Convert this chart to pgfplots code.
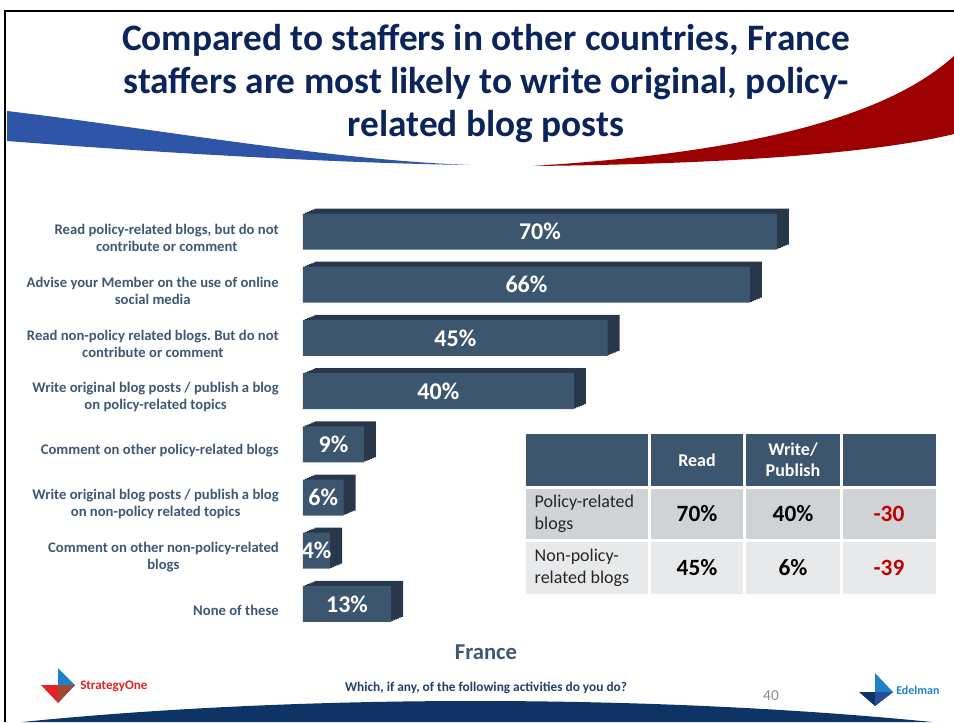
\documentclass[border=0pt]{standalone}
\usepackage{fontspec}
\setmainfont{Carlito}
\usepackage{pgfplots}
\usepackage{pgfplotstable}
\pgfplotsset{compat=1.18}

\definecolor{barfront}{RGB}{60,86,112}
\definecolor{barside}{RGB}{40,56,74}
\definecolor{titleblue}{RGB}{12,36,92}
\definecolor{labelblue}{RGB}{62,88,116}
\definecolor{rowa}{RGB}{208,211,214}
\definecolor{rowb}{RGB}{232,233,235}
\definecolor{negred}{RGB}{192,0,0}
\definecolor{swblue}{RGB}{46,85,168}
\definecolor{swred}{RGB}{156,0,0}
\definecolor{navy}{RGB}{14,52,102}
\definecolor{qblue}{RGB}{36,62,107}
\definecolor{edblue}{RGB}{30,130,200}
\definecolor{sored}{RGB}{225,35,40}
\definecolor{sobrown}{RGB}{160,72,50}
\definecolor{edmid}{RGB}{42,76,156}

% share of staffers doing each activity (France)
\pgfplotstableread{
pos val
1 70
2 66
3 45
4 40
5 9
6 6
7 4
8 13
}\blogdata

\begin{document}
\frenchspacing
\begin{tikzpicture}
\begin{scope}[x=0.75pt,y=-0.75pt]
\path[use as bounding box] (0,0) rectangle (954,722);

% slide frame and swooshes
\draw[line width=1.5pt] (5,722) -- (5,11) -- (954,11);
\fill[swblue] (7,111) .. controls (150,128) and (330,160) .. (470,165)
  .. controls (330,163) and (150,152) .. (7,141) -- cycle;
\fill[swred] (532,166) .. controls (760,152) and (890,114) .. (954,56)
  -- (954,134) .. controls (880,152) and (740,164) .. (532,166) -- cycle;

\begin{scope}[every node/.style={anchor=base, inner sep=0pt, text=titleblue,
    font=\fontsize{28}{32}\selectfont\bfseries}]
\node at (486,50) {Compared to staffers in other countries, France};
\node at (486,93) {staffers are most likely to write original, policy-};
\node at (486,136) {related blog posts};
\end{scope}
\end{scope}

\begin{axis}[
    at={(227.25pt,-153.68pt)}, anchor=north west,
    scale only axis,
    width=457pt, height=319.2pt,
    xmin=0, xmax=90, ymin=0.5, ymax=8.5,
    y dir=reverse,
    axis lines=left, axis line style={draw=none},
    xtick=\empty,
    ytick={1,...,8},
    major tick length=0pt,
    yticklabels={
      {Read policy-related blogs, but do not\\contribute or comment},
      {Advise your Member on the use of online\\social media},
      {Read non-policy related blogs. But do not\\contribute or comment},
      {Write original blog posts / publish a blog\\on policy-related topics},
      {Comment on other policy-related blogs},
      {Write original blog posts / publish a blog\\on non-policy related topics},
      {Comment on other non-policy-related\\blogs},
      {None of these}},
    yticklabel style={font=\fontsize{11}{12.75}\selectfont\bfseries, text=labelblue,
      align=center, anchor=east, inner sep=0pt, xshift=-18pt, yshift=-4.5pt},
    xbar, bar width=27pt,
    /pgf/number format/assume math mode=true,
]
% extruded depth of the 3D bars
\pgfplotsinvokeforeach{1,...,6}{
  \addplot[xbar, fill=barside, draw=none, xshift=#1*1.5pt, yshift=#1*0.625pt, forget plot]
    table[x=val, y=pos] {\blogdata};
}
% front faces with centred values
\addplot[xbar, fill=barfront, draw=none,
    visualization depends on={x \as \rawx},
    nodes near coords={\pgfmathprintnumber{\pgfplotspointmeta}\%},
    point meta=x,
    every node near coord/.append style={anchor=center, text=white,
      font=\fontsize{18}{20}\selectfont\bfseries,
      shift={(axis direction cs:-\rawx/2,0)}}]
    table[x=val, y=pos] {\blogdata};
\end{axis}

\begin{scope}[x=0.75pt,y=-0.75pt]
% comparison table
\fill[barfront] (526,434) rectangle (648,486);
\fill[barfront] (651,434) rectangle (743,486);
\fill[barfront] (746,434) rectangle (840,486);
\fill[barfront] (843,434) rectangle (936,486);
\fill[rowa] (526,489) rectangle (648,539);
\fill[rowa] (651,489) rectangle (743,539);
\fill[rowa] (746,489) rectangle (840,539);
\fill[rowa] (843,489) rectangle (936,539);
\fill[rowb] (526,542) rectangle (648,594);
\fill[rowb] (651,542) rectangle (743,594);
\fill[rowb] (746,542) rectangle (840,594);
\fill[rowb] (843,542) rectangle (936,594);
\node[text=white, font=\fontsize{13.5}{16}\selectfont\bfseries] at (697,460) {Read};
\node[text=white, align=center, font=\fontsize{13.5}{16}\selectfont\bfseries] at (793,460) {Write/\\Publish};
\node[anchor=west, align=left, text=black!85, font=\fontsize{13.5}{16.5}\selectfont] at (530,514) {Policy-related\\blogs};
\node[anchor=west, align=left, text=black!85, font=\fontsize{13.5}{16.5}\selectfont] at (530,568) {Non-policy-\\related blogs};
\node[font=\fontsize{17.5}{20}\selectfont\bfseries] at (697,514) {70\%};
\node[font=\fontsize{17.5}{20}\selectfont\bfseries] at (793,514) {40\%};
\node[text=negred, font=\fontsize{17.5}{20}\selectfont\bfseries] at (889,514) {-30};
\node[font=\fontsize{17.5}{20}\selectfont\bfseries] at (697,568) {45\%};
\node[font=\fontsize{17.5}{20}\selectfont\bfseries] at (793,568) {6\%};
\node[text=negred, font=\fontsize{17.5}{20}\selectfont\bfseries] at (889,568) {-39};

% footer
\node[font=\fontsize{17}{20}\selectfont\bfseries, text=labelblue] at (486,652) {France};
\node[font=\fontsize{10}{12}\selectfont\bfseries, text=qblue] at (486,688) {Which, if any, of the following activities do you do?};
\node[text=black!45, font=\fontsize{11.5}{12}\selectfont] at (771,696) {40};
\fill[navy] (22,722) .. controls (300,694) and (650,694) .. (932,722) -- cycle;

% StrategyOne logo
\fill[sored] (41,685) -- (75,685) -- (58,703) -- cycle;
\fill[sobrown] (58,685) -- (75,685) -- (58,703) -- cycle;
\fill[edblue] (58,668) -- (75,685) -- (58,685) -- cycle;
\node[anchor=west, inner sep=0pt, text=sored, font=\fontsize{9.8}{10}\selectfont\bfseries] at (80,686) {StrategyOne};

% Edelman logo
\fill[edblue] (875,673) -- (893,692) -- (875,692) -- cycle;
\fill[navy] (859,692) -- (893,692) -- (875,706) -- cycle;
\fill[edmid] (875,692) -- (893,692) -- (875,706) -- cycle;
\node[anchor=west, inner sep=0pt, text=edblue, font=\fontsize{9}{10}\selectfont\bfseries] at (896,690) {Edelman};
\end{scope}
\end{tikzpicture}
\end{document}
